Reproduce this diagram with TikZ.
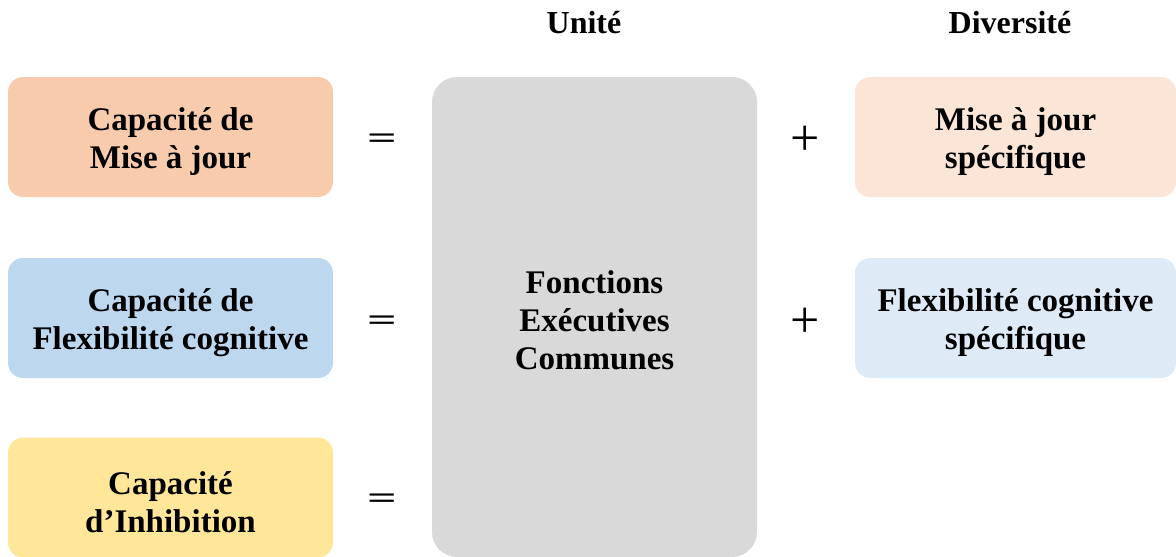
\documentclass[tikz,border=0pt]{standalone}
\usepackage{fontspec}
\usepackage{graphicx}
\setmainfont{Liberation Serif}
\definecolor{orangeA}{HTML}{F8CBAD}
\definecolor{blueA}{HTML}{BDD7EE}
\definecolor{yellowA}{HTML}{FFE699}
\definecolor{grayA}{HTML}{D9D9D9}
\definecolor{orangeB}{HTML}{FBE5D6}
\definecolor{blueB}{HTML}{DEEBF7}
\tikzset{
  box/.style={rounded corners=15pt, minimum width=325pt, minimum height=120pt, inner sep=0pt},
  rbox/.style={box, minimum width=321pt},
  bigbox/.style={box, rounded corners=25pt, minimum width=325pt, minimum height=480pt},
  txt/.style={align=center, font=\fontsize{33}{38}\selectfont\bfseries, text=black, inner sep=0pt},
  op/.style={font=\fontsize{52}{52}\selectfont, inner sep=0pt},
  eqop/.style={op, font=\fontsize{52}{52}\selectfont\bfseries},
  head/.style={font=\fontsize{32}{36}\selectfont\bfseries, inner sep=0pt}
}
\begin{document}
\begin{tikzpicture}[x=1pt,y=1pt]
\useasboundingbox (0,0) rectangle (1176,-557);
\clip (0,0) rectangle (1176,-557);
\node[box, fill=orangeA] (cmaj) at (170.5,-137) {};
\node[box, fill=blueA] (cflex) at (170.5,-318) {};
\node[box, fill=yellowA] (cinh) at (170.5,-497.5) {};
\node[bigbox, fill=grayA] (fec) at (594.5,-317) {};
\node[rbox, fill=orangeB] (smaj) at (1015.5,-137) {};
\node[rbox, fill=blueB] (sflex) at (1015.5,-318) {};
\node[txt] (tcmaj) at ([yshift=-5pt]cmaj.center) {Capacité de\\Mise à jour};
\node[txt] (tcflex) at ([yshift=-5pt]cflex.center) {Capacité de\\Flexibilité cognitive};
\node[txt] (tcinh) at ([yshift=-5pt]cinh.center) {Capacité\\d’Inhibition};
\node[txt] (tfec) at ([yshift=-3pt]fec.center) {Fonctions\\Exécutives\\Communes};
\node[txt] (tsmaj) at ([yshift=-5pt]smaj.center) {Mise à jour\\spécifique};
\node[txt] (tsflex) at ([yshift=-5pt]sflex.center) {Flexibilité cognitive\\spécifique};
\node[head] (unite) at (584,-23) {Unité};
\node[head] (divers) at (1010,-23) {Diversité};
\node[eqop] (eq1) at (382,-141) {\scalebox{1}[0.6]{=}};
\node[eqop] (eq2) at (382,-323) {\scalebox{1}[0.6]{=}};
\node[eqop] (eq3) at (382,-501) {\scalebox{1}[0.6]{=}};
\node[op] (pl1) at (805,-141) {+};
\node[op] (pl2) at (805,-323) {+};
\end{tikzpicture}
\end{document}
